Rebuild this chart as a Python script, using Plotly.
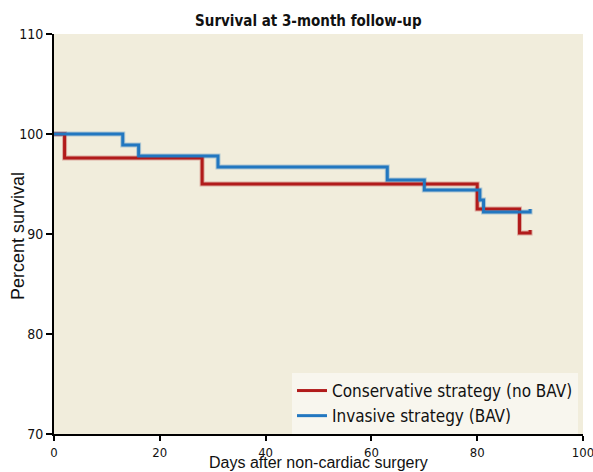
import plotly.graph_objects as go

# Kaplan-Meier step data (days, percent survival); last point = censor tick
cons_days = [0, 2, 28, 80, 88, 90, 90]
cons_surv = [100, 97.6, 95.0, 92.5, 90.1, 90.1, 90.4]
inv_days = [0, 13, 16, 31, 63, 70, 80.5, 81.2, 90, 90]
inv_surv = [100, 98.9, 97.8, 96.7, 95.4, 94.4, 93.4, 92.2, 92.2, 92.5]

x_ticks = [0, 20, 40, 60, 80, 100]
y_ticks = [70, 80, 90, 100, 110]

RED = "#B11B1B"
BLUE = "#2277C0"
FONT = "Liberation Sans, Arial, sans-serif"
COND = "DejaVu Sans Condensed, Liberation Sans, sans-serif"

fig = go.Figure()
for days, surv, col in [(cons_days, cons_surv, RED), (inv_days, inv_surv, BLUE)]:
    fig.add_trace(go.Scatter(x=days, y=surv, mode="lines", line=dict(shape="hv", color=col, width=5),
                             opacity=0.3, showlegend=False, hoverinfo="skip"))
fig.add_trace(go.Scatter(x=cons_days, y=cons_surv, mode="lines", line=dict(shape="hv", color=RED, width=3),
                         name="Conservative strategy (no BAV)"))
fig.add_trace(go.Scatter(x=inv_days, y=inv_surv, mode="lines", line=dict(shape="hv", color=BLUE, width=3),
                         name="Invasive strategy (BAV)"))

fig.update_layout(
    width=593, height=472,
    margin=dict(l=54, r=10, t=34, b=38),
    paper_bgcolor="white", plot_bgcolor="#F1EDDC",
    title=dict(text="<b>Survival at 3-month follow-up</b>", x=0.52, xanchor="center", y=0.955, yanchor="middle",
               font=dict(family=COND, size=15, color="#111")),
    xaxis=dict(range=[0, 100], tickvals=x_ticks, showgrid=False, zeroline=False, automargin=False,
               ticklabeloverflow="allow",
               showline=True, linecolor="black", linewidth=2, ticks="outside", ticklen=5, tickwidth=1.5,
               tickcolor="black", tickfont=dict(family=COND, size=13, color="#111")),
    yaxis=dict(range=[70, 110], tickvals=y_ticks, showgrid=False, zeroline=False, automargin=False,
               ticklabeloverflow="allow",
               showline=True, linecolor="black", linewidth=2, ticks="outside", ticklen=6, tickwidth=1.5,
               tickcolor="black", tickfont=dict(family=COND, size=14, color="#111")),
    legend=dict(x=0.9905, y=0.0, xanchor="right", yanchor="bottom", bgcolor="#F8F6EE",
                font=dict(family=COND, size=17, color="#111"), tracegroupgap=0, itemwidth=30),
    annotations=[
        dict(text="Days after non-cardiac surgery", xref="paper", yref="paper", x=0.5, y=-0.0713,
             xanchor="center", yanchor="middle", showarrow=False,
             font=dict(family=FONT, size=16, color="#111")),
        dict(text="Percent survival", xref="paper", yref="paper", x=-0.068, y=0.495, textangle=-90,
             xanchor="center", yanchor="middle", showarrow=False,
             font=dict(family=FONT, size=18, color="#111")),
    ],
)

fig.write_html("out.html", config={"displayModeBar": False},
               post_script="document.body.style.margin='0';")
